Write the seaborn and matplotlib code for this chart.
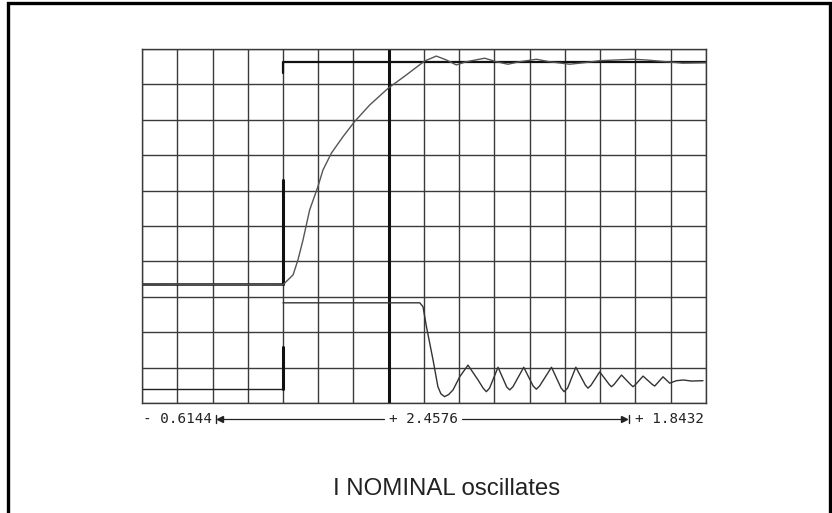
import matplotlib
matplotlib.use("Agg")
import matplotlib.pyplot as plt
import seaborn as sns
import numpy as np
from matplotlib.lines import Line2D
from matplotlib.patches import Rectangle

# time axis: -0.6144 s .. +1.8432 s, 16 divisions; y in grid divisions (0..10)
t_start = -0.6144
t_end = 1.8432
t_div = 0.1536
cursor_t = 0.4608
scale_labels = ["- 0.6144", "+ 2.4576", "+ 1.8432"]
caption = "I NOMINAL oscillates"

# upper trace: actual value following the step
upper_t = [-0.6144, 0.0, 0.044, 0.065, 0.087, 0.116, 0.152, 0.174, 0.211, 0.261, 0.312,
           0.378, 0.458, 0.538, 0.617, 0.668, 0.712, 0.755, 0.799, 0.879, 0.930, 0.980,
           1.031, 1.104, 1.162, 1.249, 1.322, 1.380, 1.525, 1.583, 1.670, 1.742, 1.8432]
upper_y = [3.36, 3.34, 3.62, 4.04, 4.60, 5.45, 6.11, 6.58, 7.06, 7.52, 7.95,
           8.42, 8.89, 9.27, 9.66, 9.80, 9.69, 9.55, 9.64, 9.74, 9.64, 9.57,
           9.64, 9.71, 9.64, 9.57, 9.62, 9.67, 9.71, 9.69, 9.64, 9.60, 9.61]

# upper step command (drawn as scope segments)
cmd_low_t = [-0.6144, 0.0]
cmd_low_y = [3.36, 3.36]
cmd_stub_t = [0.0, 0.0]
cmd_stub_y = [3.36, 6.30]
cmd_high_t = [0.0, 0.0, 1.8432]
cmd_high_y = [9.33, 9.64, 9.64]

# lower trace: nominal current
lower_left_t = [-0.6144, 0.0]
lower_left_y = [0.40, 0.40]
lower_stub_t = [0.0, 0.0]
lower_stub_y = [0.40, 1.58]
lower_t = [0.0, 0.596, 0.610, 0.625, 0.654, 0.675, 0.688, 0.704, 0.722, 0.741, 0.770,
           0.806, 0.850, 0.872, 0.886, 0.900, 0.937, 0.975, 0.988, 1.002, 1.049,
           1.090, 1.104, 1.118, 1.170, 1.212, 1.225, 1.240, 1.276, 1.318, 1.329,
           1.342, 1.380, 1.422, 1.431, 1.442, 1.475, 1.515, 1.525, 1.536, 1.569,
           1.610, 1.620, 1.656, 1.685, 1.714, 1.745, 1.780, 1.830]
lower_y = [2.83, 2.83, 2.72, 2.16, 1.21, 0.46, 0.26, 0.18, 0.24, 0.37, 0.74,
           1.07, 0.65, 0.42, 0.32, 0.42, 1.01, 0.45, 0.37, 0.46, 1.01,
           0.48, 0.39, 0.48, 1.01, 0.42, 0.32, 0.42, 1.01, 0.50, 0.42,
           0.50, 0.88, 0.52, 0.46, 0.52, 0.79, 0.52, 0.46, 0.52, 0.76,
           0.52, 0.48, 0.74, 0.56, 0.63, 0.65, 0.62, 0.63]

sns.set_style("white")
W, H = 832, 513
fig = plt.figure(figsize=(W / 100, H / 100), dpi=100)
ax = fig.add_axes([142 / W, 1 - 403 / H, 564 / W, 354 / H])

ax.set_xlim(t_start, t_end)
ax.set_ylim(0, 10)
ax.set_xticks(np.arange(t_start, t_end + 1e-6, t_div))
ax.set_yticks(np.arange(0, 11, 1))
ax.grid(True, color="#3a3a3a", linewidth=1.0)
ax.tick_params(length=0, labelbottom=False, labelleft=False)
for sp in ax.spines.values():
    sp.set_color("#3a3a3a")
    sp.set_linewidth(1.0)

ax.axvline(cursor_t, color="#111111", linewidth=2.2)

sns.lineplot(x=cmd_low_t, y=cmd_low_y, ax=ax, sort=False, estimator=None, color="#111111", linewidth=1.8)
sns.lineplot(x=cmd_stub_t, y=cmd_stub_y, ax=ax, sort=False, estimator=None, color="#111111", linewidth=2.2)
sns.lineplot(x=cmd_high_t, y=cmd_high_y, ax=ax, sort=False, estimator=None, color="#111111", linewidth=1.6)
sns.lineplot(x=upper_t, y=upper_y, ax=ax, sort=False, estimator=None, color="#555555", linewidth=1.0)
sns.lineplot(x=lower_left_t, y=lower_left_y, ax=ax, sort=False, estimator=None, color="#222222", linewidth=1.0)
sns.lineplot(x=lower_stub_t, y=lower_stub_y, ax=ax, sort=False, estimator=None, color="#111111", linewidth=2.2)
sns.lineplot(x=lower_t, y=lower_y, ax=ax, sort=False, estimator=None, color="#333333", linewidth=1.0)


def fx(px):
    return px / W


def fy(py):
    return 1 - py / H


# dimension line under the grid
y_dim = 419
mono = dict(family="DejaVu Sans Mono", fontsize=10.3, color="#222222", va="center", ha="left")
fig.text(fx(143), fy(y_dim), scale_labels[0], **mono)
fig.text(fx(389), fy(y_dim), scale_labels[1], **mono)
fig.text(fx(635), fy(y_dim), scale_labels[2], **mono)
fig.add_artist(Line2D([fx(220), fx(384)], [fy(y_dim), fy(y_dim)], color="#222222", lw=0.9))
fig.add_artist(Line2D([fx(462), fx(624)], [fy(y_dim), fy(y_dim)], color="#222222", lw=0.9))
fig.add_artist(Line2D([fx(220)], [fy(y_dim)], marker="<", markersize=5, color="#222222"))
fig.add_artist(Line2D([fx(624)], [fy(y_dim)], marker=">", markersize=5, color="#222222"))
fig.add_artist(Line2D([fx(216), fx(216)], [fy(y_dim - 4), fy(y_dim + 4)], color="#222222", lw=1.0))
fig.add_artist(Line2D([fx(629), fx(629)], [fy(y_dim - 4), fy(y_dim + 4)], color="#222222", lw=1.0))

fig.text(fx(447), fy(489), caption, family="Liberation Sans", fontsize=17.3,
         color="#222222", ha="center", va="center")

# outer frame (open at the bottom)
fig.add_artist(Rectangle((fx(8), -0.1), (830 - 8) / W, fy(3) + 0.1, fill=False,
                         edgecolor="black", linewidth=2.4, transform=fig.transFigure, clip_on=False))

fig.savefig("out.png", dpi=100)
